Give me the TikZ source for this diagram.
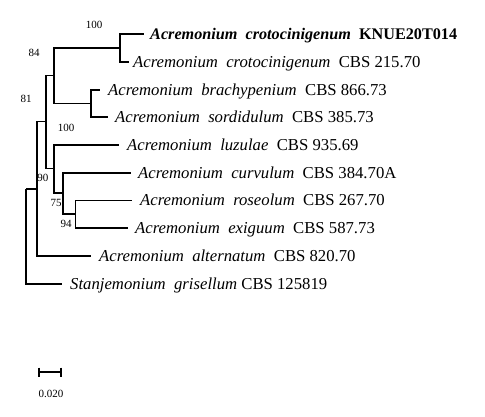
\documentclass[tikz,border=0pt]{standalone}
\usepackage{fontspec}
\setmainfont{Liberation Serif}
\begin{document}
\begin{tikzpicture}[x=1pt,y=-1pt,
  br/.style={line width=1.4pt},
  leaf/.style={anchor=base west,inner xsep=0pt,inner ysep=0pt,font=\fontsize{16.7}{18}\selectfont,yshift=-5pt},
  boot/.style={font=\fontsize{11}{12}\selectfont,inner sep=0pt}]
\useasboundingbox (0,0) rectangle (485,416);
% internal nodes
\coordinate (root) at (26,189);
\coordinate (H) at (37,189);
\coordinate (D) at (46,121.5);
\coordinate (C) at (54,75.5);
\coordinate (A) at (120,48);
\coordinate (B) at (91,103.5);
\coordinate (E) at (54,168.5);
\coordinate (F) at (63,193);
\coordinate (G) at (75.7,214);
% leaf tips
\coordinate (t1) at (144,34);
\coordinate (t2) at (129,62);
\coordinate (t3) at (100,90);
\coordinate (t4) at (108,117);
\coordinate (t5) at (119,145);
\coordinate (t6) at (131,173);
\coordinate (t7) at (132,200.5);
\coordinate (t8) at (128,228);
\coordinate (t9) at (91,256);
\coordinate (t10) at (62,284);
% labels
\node[leaf,xshift=6pt,font=\fontsize{16.2}{18}\selectfont] (l1) at (t1) {\textbf{\textit{Acremonium\ \ crotocinigenum}\ \ KNUE20T014}};
\node[leaf,xshift=4pt] (l2) at (t2) {\textit{Acremonium\ \ crotocinigenum}\ \ CBS 215.70};
\node[leaf,xshift=8pt] (l3) at (t3) {\textit{Acremonium\ \ brachypenium}\ \ CBS 866.73};
\node[leaf,xshift=7pt] (l4) at (t4) {\textit{Acremonium\ \ sordidulum}\ \ CBS 385.73};
\node[leaf,xshift=8pt] (l5) at (t5) {\textit{Acremonium\ \ luzulae}\ \ CBS 935.69};
\node[leaf,xshift=7pt] (l6) at (t6) {\textit{Acremonium\ \ curvulum}\ \ CBS 384.70A};
\node[leaf,xshift=8pt] (l7) at (t7) {\textit{Acremonium\ \ roseolum}\ \ CBS 267.70};
\node[leaf,xshift=7pt] (l8) at (t8) {\textit{Acremonium\ \ exiguum}\ \ CBS 587.73};
\node[leaf,xshift=8pt] (l9) at (t9) {\textit{Acremonium\ \ alternatum}\ \ CBS 820.70};
\node[leaf,xshift=8pt] (l10) at (t10) {\textit{Stanjemonium\ \ grisellum}\ CBS 125819};
% branches
\draw[br] (A) |- (t1); \draw[br] (A) |- (t2);
\draw[br] (B) |- (t3); \draw[br] (B) |- (t4);
\draw[br] (C) |- (A); \draw[br] (C) |- (B);
\draw[br] (G) |- (t7); \draw[br] (G) |- (t8);
\draw[br] (F) |- (t6); \draw[br] (F) |- (G);
\draw[br] (E) |- (t5); \draw[br] (E) |- (F);
\draw[br] (D) |- (C); \draw[br] (D) |- (E);
\draw[br] (H) |- (D); \draw[br] (H) |- (t9);
\draw[br] (root) |- (H); \draw[br] (root) |- (t10);
% bootstrap values
\node[boot] (b1) at (94,25) {100};
\node[boot] (b2) at (34,53) {84};
\node[boot] (b3) at (26,99) {81};
\node[boot] (b4) at (66,128) {100};
\node[boot] (b5) at (43,178) {90};
\node[boot] (b6) at (56,203) {75};
\node[boot] (b7) at (66,224) {94};
% scale bar
\coordinate (s1) at (39,372);
\coordinate (s2) at (61,372);
\draw[line width=1.4pt] (s1) -- (s2);
\draw[line width=1.4pt] ([yshift=4.5pt]s1) -- ([yshift=-4.5pt]s1);
\draw[line width=1.4pt] ([yshift=4.5pt]s2) -- ([yshift=-4.5pt]s2);
\node[boot] (sl) at (51,394) {0.020};
\end{tikzpicture}
\end{document}
